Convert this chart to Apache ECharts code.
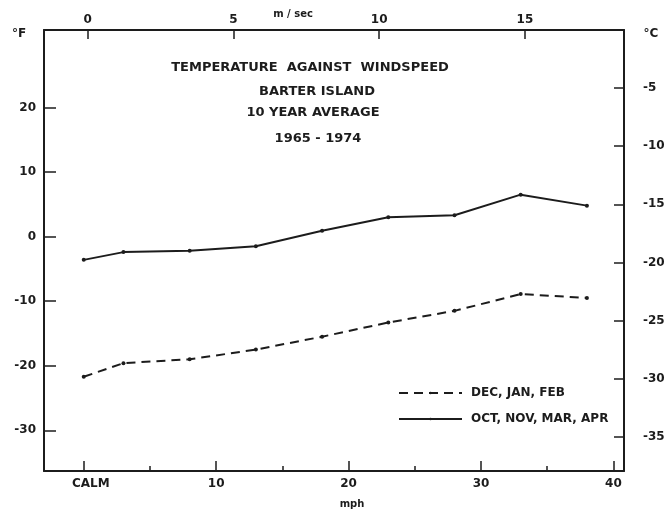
<!DOCTYPE html>
<html>
<head>
<meta charset="utf-8">
<script src="https://cdn.jsdelivr.net/npm/echarts@6/dist/echarts.min.js"></script>
<style>
  html, body { margin: 0; padding: 0; background: #ffffff; }
  #chart { width: 666px; height: 510px; }
</style>
</head>
<body>
<div id="chart"></div>
<script>
// Wind speed classes in mph (0 = calm)
const windMph = [0, 3, 8, 13, 18, 23, 28, 33, 38];
// Mean air temperature (°F) for each wind class
const tempWinter = [-21.7, -19.6, -19.0, -17.5, -15.5, -13.3, -11.5, -8.9, -9.5];   // DEC, JAN, FEB
const tempShoulder = [-3.6, -2.4, -2.2, -1.5, 0.9, 3.0, 3.3, 6.5, 4.8];          // OCT, NOV, MAR, APR
const seriesNames = ['DEC, JAN, FEB', 'OCT, NOV, MAR, APR'];

// Tick values and labels
const mphMajorTicks = [0, 10, 20, 30, 40];
const mphMajorLabels = ['CALM', '10', '20', '30', '40'];
const mphMinorTicks = [5, 15, 25, 35];
const msTicks = [0, 5, 10, 15];
const degFTicks = [20, 10, 0, -10, -20, -30];
const degCTicks = [-5, -10, -15, -20, -25, -30, -35];

const titleLines = ['TEMPERATURE  AGAINST  WINDSPEED', 'BARTER ISLAND', '10 YEAR AVERAGE', '1965 - 1974'];

const INK = '#1c1c1c';
const FONT = 'DejaVu Sans';

// Axis extents: the °C scale is tied to the °F scale
const fMin = -36.3, fMax = 32;
const toC = f => (f - 32) * 5 / 9;

const pairs = ys => windMph.map((x, i) => [x, ys[i]]);

const labelStyle = { color: INK, fontFamily: FONT, fontWeight: 'bold', fontSize: 12 };
const frameLine = { show: true, onZero: false, lineStyle: { color: INK, width: 2 } };

const chart = echarts.init(document.getElementById('chart'), null, { renderer: 'canvas' });

const titleGraphics = [
  { text: titleLines[0], x: 310, y: 68 },
  { text: titleLines[1], x: 317, y: 92 },
  { text: titleLines[2], x: 313, y: 113 },
  { text: titleLines[3], x: 318, y: 139 }
].map(t => ({
  type: 'text', x: t.x, y: t.y,
  style: { text: t.text, fill: INK, font: 'bold 13px "DejaVu Sans"', align: 'center', verticalAlign: 'middle' }
}));

const unitGraphics = [
  { text: '°F', x: 19, y: 34, size: 12 },
  { text: '°C', x: 651, y: 34, size: 12 },
  { text: 'm / sec', x: 293, y: 14, size: 10 },
  { text: 'mph', x: 352, y: 504, size: 10 }
].map(t => ({
  type: 'text', x: t.x, y: t.y,
  style: { text: t.text, fill: INK, font: 'bold ' + t.size + 'px "DejaVu Sans"', align: 'center', verticalAlign: 'middle' }
}));

chart.setOption({
  backgroundColor: '#ffffff',
  animation: false,
  grid: { left: 44, right: 42, top: 30, bottom: 39, containLabel: false, outerBoundsMode: 'none' },
  legend: {
    orient: 'vertical',
    left: 393,
    top: 381,
    itemWidth: 63,
    itemHeight: 3,
    itemGap: 12,
    data: seriesNames,
    textStyle: { color: INK, fontFamily: FONT, fontWeight: 'bold', fontSize: 12, lineHeight: 14, padding: [0, 0, 0, 4] }
  },
  xAxis: [
    {
      // mph, major ticks and labels
      type: 'value', position: 'bottom', min: -3, max: 40.8,
      axisLine: frameLine,
      axisTick: { show: true, inside: true, length: 10, customValues: mphMajorTicks, lineStyle: { color: INK, width: 1.5 } },
      axisLabel: {
        show: true, margin: 7, customValues: mphMajorTicks,
        ...labelStyle,
        formatter: v => {
          const s = mphMajorLabels[mphMajorTicks.indexOf(v)];
          return v === 0 ? '{calm|' + s + '}' : s;
        },
        rich: { calm: { ...labelStyle, padding: [0, 0, 0, 14] } }
      },
      splitLine: { show: false }
    },
    {
      // mph, minor ticks
      type: 'value', position: 'bottom', min: -3, max: 40.8,
      axisLine: { show: false, onZero: false },
      axisTick: { show: true, inside: true, length: 5, customValues: mphMinorTicks, lineStyle: { color: INK, width: 1.5 } },
      axisLabel: { show: false },
      splitLine: { show: false }
    },
    {
      // m/sec along the top
      type: 'value', position: 'top', min: -1.5, max: 18.4,
      axisLine: frameLine,
      axisTick: { show: true, inside: true, length: 9, customValues: msTicks, lineStyle: { color: INK, width: 1.5 } },
      axisLabel: { show: true, margin: 4, customValues: msTicks, ...labelStyle },
      splitLine: { show: false }
    }
  ],
  yAxis: [
    {
      type: 'value', position: 'left', min: fMin, max: fMax,
      axisLine: frameLine,
      axisTick: { show: true, inside: true, length: 12, customValues: degFTicks, lineStyle: { color: INK, width: 1.5 } },
      axisLabel: { show: true, margin: 8, customValues: degFTicks, ...labelStyle },
      splitLine: { show: false }
    },
    {
      type: 'value', position: 'right', min: toC(fMin), max: toC(fMax),
      axisLine: frameLine,
      axisTick: { show: true, inside: true, length: 10, customValues: degCTicks, lineStyle: { color: INK, width: 1.5 } },
      axisLabel: { show: true, margin: 19, customValues: degCTicks, ...labelStyle },
      splitLine: { show: false }
    }
  ],
  series: [
    {
      name: seriesNames[0],
      type: 'line',
      xAxisIndex: 0, yAxisIndex: 0,
      data: pairs(tempWinter),
      symbol: 'circle', symbolSize: 4,
      itemStyle: { color: INK },
      lineStyle: { color: INK, width: 2, type: [9, 6] }
    },
    {
      name: seriesNames[1],
      type: 'line',
      xAxisIndex: 0, yAxisIndex: 0,
      data: pairs(tempShoulder),
      symbol: 'circle', symbolSize: 4,
      itemStyle: { color: INK },
      lineStyle: { color: INK, width: 2, type: 'solid' }
    }
  ],
  graphic: { elements: titleGraphics.concat(unitGraphics) }
});
</script>
</body>
</html>
